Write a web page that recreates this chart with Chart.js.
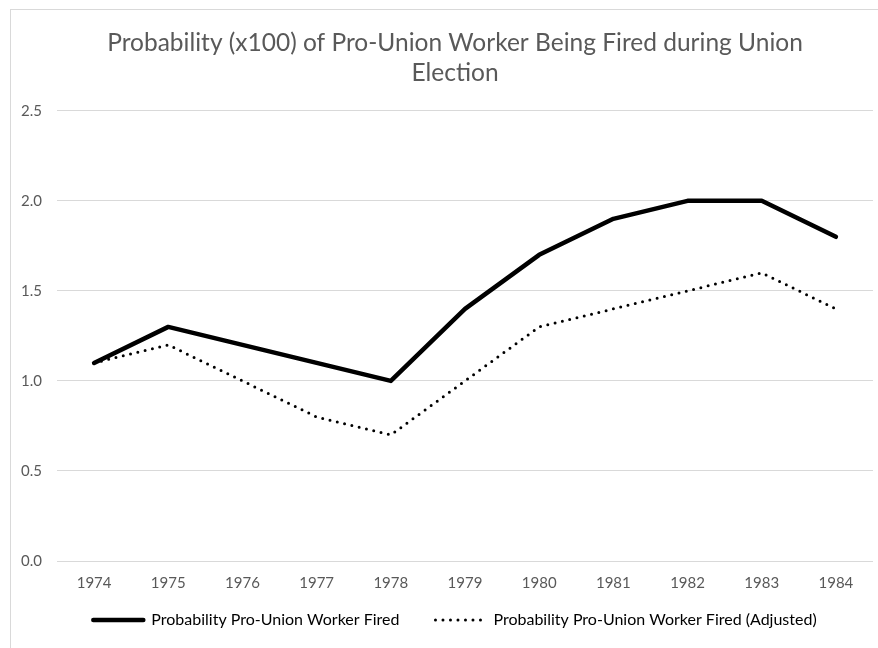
<!DOCTYPE html>
<html>
<head>
<meta charset="utf-8">
<script src="https://cdn.jsdelivr.net/npm/chart.js@4.4.1/dist/chart.umd.min.js"></script>
<style>
  html, body { margin: 0; padding: 0; background: #fff; overflow: hidden; width: 878px; height: 648px; }
  #frame { position: absolute; left: 10px; top: 9px; width: 890px; height: 650px; border: 1px solid #d9d9d9; box-sizing: border-box; }
  #wrap { position: absolute; left: 10px; top: 9px; width: 890px; height: 650px; }
</style>
</head>
<body>
<div id="frame"></div>
<div id="wrap"><canvas id="unionChart"></canvas></div>
<script>
// Probability (x100) of pro-union worker being fired, 1974-1984
const years = ['1974', '1975', '1976', '1977', '1978', '1979', '1980', '1981', '1982', '1983', '1984'];
const firedProb = [1.1, 1.3, 1.2, 1.1, 1.0, 1.4, 1.7, 1.9, 2.0, 2.0, 1.8];
const firedProbAdjusted = [1.1, 1.2, 1.0, 0.8, 0.7, 1.0, 1.3, 1.4, 1.5, 1.6, 1.4];
const seriesNames = ['Probability Pro-Union Worker Fired', 'Probability Pro-Union Worker Fired (Adjusted)'];
const titleLines = ['Probability (x100) of Pro-Union Worker Being Fired during Union', 'Election'];

const FONT = 'Lato, "Open Sans", sans-serif';
const GREY = '#595959';

// legend sits close under the axis labels, like the Excel original
const legendNudge = {
    id: 'legendNudge',
    afterLayout(chart) {
        const lg = chart.legend;
        if (!lg) return;
        lg.top -= 15;
        lg.bottom -= 15;
    }
};

(function(){
    const ctx = document.getElementById('unionChart');

    new Chart(ctx, {
        type: 'line',
        data: {
            labels: years,
            datasets: [{
                label: seriesNames[0],
                data: firedProb,
                borderColor: '#000000',
                borderWidth: 4.5,
                borderCapStyle: 'round',
                borderJoinStyle: 'round',
                pointRadius: 0,
                tension: 0
            }, {
                label: seriesNames[1],
                data: firedProbAdjusted,
                borderColor: '#000000',
                borderWidth: 3,
                borderDash: [0, 7.5],
                borderCapStyle: 'round',
                borderJoinStyle: 'round',
                pointRadius: 0,
                tension: 0
            }]
        },
        options: {
            responsive: true,
            maintainAspectRatio: false,
            animation: false,
            layout: { padding: { left: 0, right: 0, top: 0, bottom: 6 } },
            plugins: {
                title: {
                    display: true,
                    text: titleLines,
                    color: GREY,
                    font: { family: FONT, size: 24.5, weight: 'normal', lineHeight: 1.22 },
                    padding: { top: 19, bottom: 23 }
                },
                legend: {
                    position: 'bottom',
                    labels: {
                        color: GREY,
                        font: { family: FONT, size: 16 },
                        usePointStyle: true,
                        pointStyleWidth: 50,
                        padding: 36,
                        generateLabels: function(chart) {
                            return chart.data.datasets.map(function(ds, i) {
                                return {
                                    text: ds.label,
                                    fillStyle: ds.borderColor,
                                    strokeStyle: ds.borderColor,
                                    lineWidth: ds.borderWidth,
                                    lineDash: ds.borderDash || [],
                                    lineCap: 'round',
                                    pointStyle: 'line',
                                    hidden: false,
                                    datasetIndex: i
                                };
                            });
                        }
                    }
                },
                tooltip: { enabled: false }
            },
            scales: {
                x: {
                    offset: true,
                    grid: { display: false, drawTicks: false },
                    border: { display: false },
                    ticks: { color: GREY, font: { family: FONT, size: 15 }, padding: 13, maxRotation: 0 },
                    afterFit: function(scale) { scale.height = 30; }
                },
                y: {
                    min: 0,
                    max: 2.5,
                    grid: { color: '#d9d9d9', lineWidth: 1, drawTicks: false },
                    border: { display: false },
                    ticks: {
                        stepSize: 0.5,
                        color: GREY,
                        font: { family: FONT, size: 15 },
                        padding: 15,
                        callback: function(v) { return v.toFixed(1); }
                    },
                    afterFit: function(scale) { scale.width = 47; }
                },
                // empty right margin so title and legend stay centred on the frame
                yRight: {
                    position: 'right',
                    grid: { display: false, drawTicks: false },
                    border: { display: false },
                    ticks: { display: false },
                    afterFit: function(scale) { scale.width = 27; }
                }
            }
        },
        plugins: [legendNudge]
    });
})();
</script>
</body>
</html>
